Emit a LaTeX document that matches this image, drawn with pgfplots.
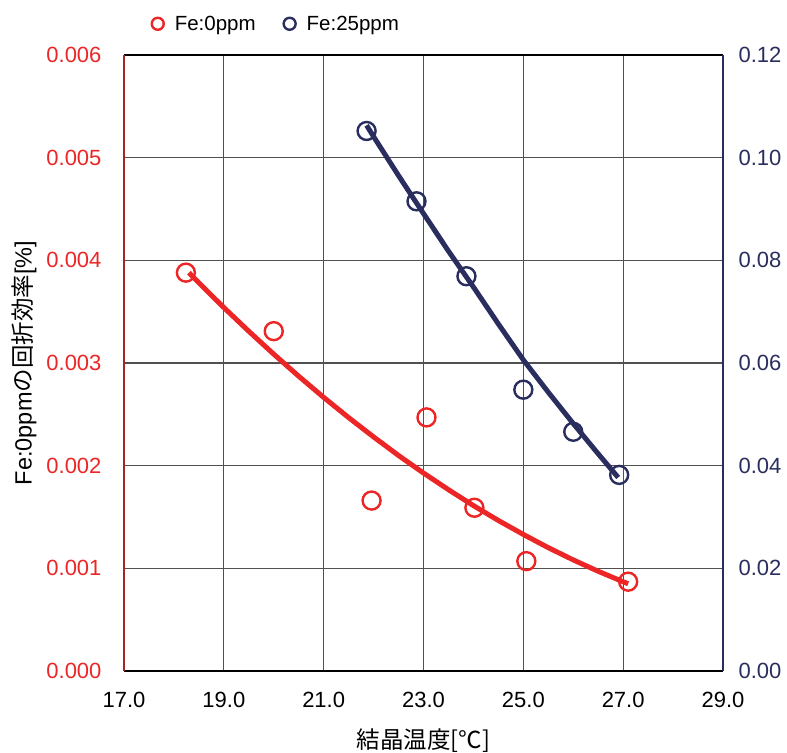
\documentclass[border=0pt]{standalone}
\usepackage{fontspec}
\setmainfont{Liberation Sans}
\newfontfamily\jp{Noto Sans CJK JP}
\usepackage{pgfplots}
\pgfplotsset{compat=1.18}

\definecolor{fered}{RGB}{236,38,38}
\definecolor{fenavy}{RGB}{42,46,94}
\definecolor{axred}{RGB}{160,40,40}
\definecolor{gridgray}{RGB}{80,80,80}

\pgfplotsset{
  common/.style={
    width=599pt, height=616pt, scale only axis,
    xmin=17, xmax=29, ymin=0,
    major tick length=0pt,
    scaled ticks=false,
    /pgf/number format/assume math mode=true,
    tick label style={font=\fontsize{22}{26}\selectfont},
    label style={font=\fontsize{23.5}{28}\selectfont},
  },
}

\begin{document}
\begin{tikzpicture}
\begin{axis}[common, name=main,
  ymax=0.006,
  axis x line*=box, axis y line*=left,
  x axis line style={black, line width=1.6pt},
  y axis line style={axred, line width=1.6pt},
  xtick={17,19,21,23,25,27,29},
  ytick={0,0.001,0.002,0.003,0.004,0.005,0.006},
  xticklabel style={/pgf/number format/fixed, /pgf/number format/fixed zerofill,
    /pgf/number format/precision=1, yshift=-18pt},
  yticklabel style={/pgf/number format/fixed, /pgf/number format/fixed zerofill,
    /pgf/number format/precision=3, xshift=-19pt, text=fered},
  grid=major,
  major grid style={gridgray, line width=1.1pt},
  xlabel={{\jp 結晶温度[℃]}},
  ylabel={Fe:0ppm{\jp の回折効率}[\%]},
  xlabel shift=14pt,
  ylabel shift=3pt,
]
% trend line, Fe:0ppm
\addplot[fered, line width=5pt] coordinates {
  (18.3,0.003880) (18.5,0.003781) (19.0,0.003540) (19.5,0.003309) (20.0,0.003086)
  (20.5,0.002871) (21.0,0.002665) (21.5,0.002468) (22.0,0.002280) (22.5,0.002099)
  (23.0,0.001928) (23.5,0.001766) (24.0,0.001611) (24.5,0.001466) (25.0,0.001330)
  (25.5,0.001201) (26.0,0.001082) (26.5,0.000971) (27.0,0.000869) (27.1,0.000850)
};
\addplot[only marks, mark=o, mark size=9pt, fered, line width=2.4pt] coordinates {
  (18.24,0.00388) (20.0,0.00331) (21.96,0.00166) (23.06,0.00247)
  (24.02,0.00159) (25.06,0.00107) (27.1,0.00087)
};
\end{axis}

\begin{axis}[common,
  ymax=0.12,
  axis x line=none, axis y line*=right,
  y axis line style={fenavy, line width=1.6pt},
  ytick={0,0.02,0.04,0.06,0.08,0.10,0.12},
  yticklabel style={/pgf/number format/fixed, /pgf/number format/fixed zerofill,
    /pgf/number format/precision=2, xshift=12pt, text=fenavy},
  legend style={at={(0.041,1.031)}, anchor=south west, draw=none, fill=none,
    font=\fontsize{20.5}{24}\selectfont, legend columns=2,
    /tikz/every even column/.append style={column sep=26pt},
    /tikz/every odd column/.append style={column sep=9pt}},
  legend image code/.code={\draw[#1, mark size=6pt] plot coordinates {(0.3cm,0cm)};},
]
\addlegendimage{only marks, mark=o, fered, line width=2.4pt}
\addlegendentry{Fe:0ppm}
% trend line, Fe:25ppm
\addplot[fenavy, line width=5pt, forget plot] coordinates {
  (21.86,0.1063) (22.0,0.1041) (22.5,0.0965) (23.0,0.0891) (23.5,0.0818)
  (24.0,0.0748) (24.5,0.0676) (25.0,0.0606) (25.5,0.0543) (26.0,0.0482)
  (26.5,0.0423) (26.9,0.0377)
};
\addplot[only marks, mark=o, mark size=9pt, fenavy, line width=2.4pt] coordinates {
  (21.86,0.1052) (22.86,0.0915) (23.86,0.0769) (25.0,0.0548)
  (26.0,0.0466) (26.92,0.0382)
};
\addlegendentry{Fe:25ppm}
\end{axis}
\pgfresetboundingbox
\path[use as bounding box] ([shift={(-124pt,-82pt)}]main.south west) rectangle ([shift={(64pt,55pt)}]main.north east);
\end{tikzpicture}
\end{document}
